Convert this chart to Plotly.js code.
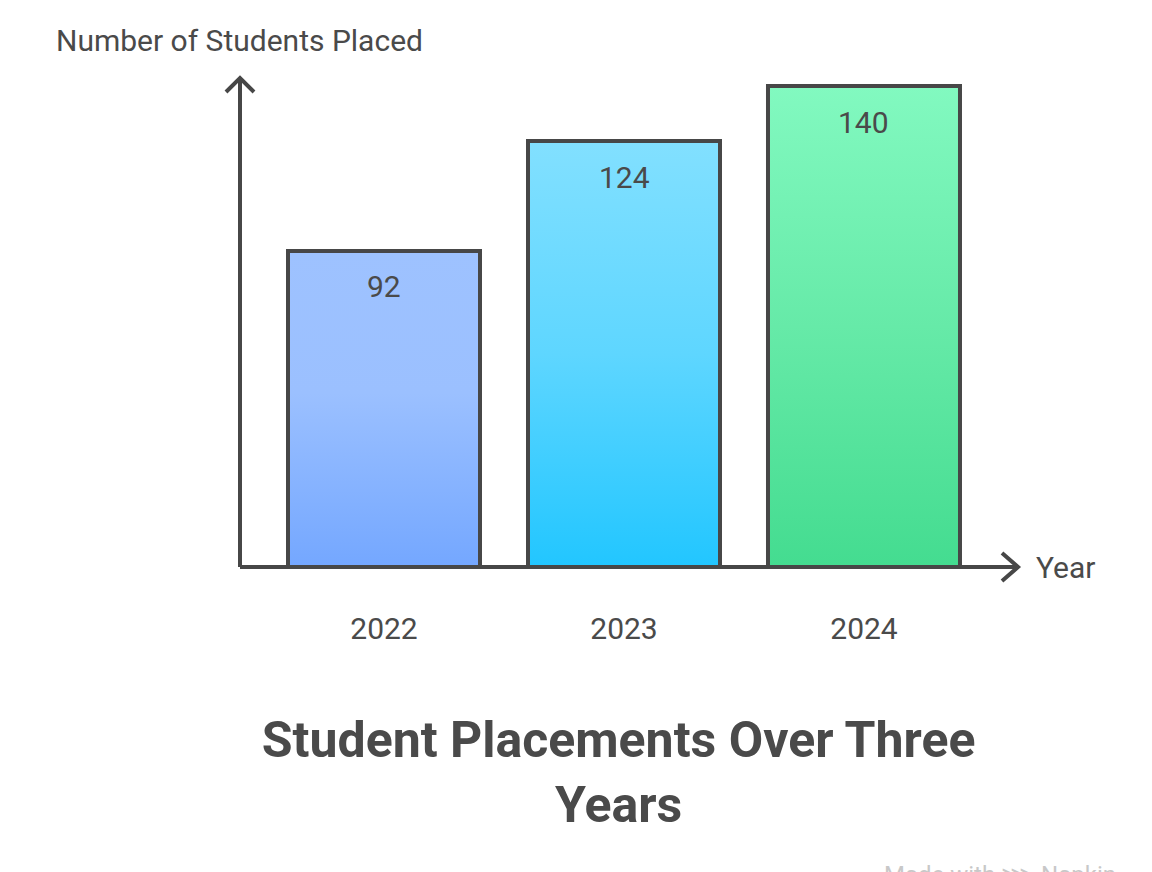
<!DOCTYPE html>
<html>
<head>
<meta charset="utf-8">
<script src="https://cdn.plot.ly/plotly-3.0.1.min.js"></script>
<style>html,body{margin:0;padding:0;background:#fff;}#chart{width:1152px;height:872px;}</style>
</head>
<body>
<div id="chart"></div>
<script>
// ---- data ----
var years = ['2022', '2023', '2024'];
var placed = [92, 124, 140];
var yTitle = 'Number of Students Placed';
var xTitle = 'Year';
var chartTitle = 'Student Placements Over Three<br>Years';

// ---- styles ----
var gradTop = ['#9ec2ff', '#82e0ff', '#82f9c0'];
var gradMid = ['#9bc0ff', '#5ed6ff', '#66eaa8'];
var gradBottom = ['#74a7ff', '#22c6ff', '#44dc90'];
var ink = '#474747';
var textInk = '#4a4a4a';
var font = 'Roboto, "Noto Sans", sans-serif';

function gradientUri(top, mid, bottom, midOffset) {
  var svg = "<svg xmlns='http://www.w3.org/2000/svg' width='10' height='100' viewBox='0 0 10 100' preserveAspectRatio='none'>" +
    "<defs><linearGradient id='g' x1='0' y1='0' x2='0' y2='1'>" +
    "<stop offset='0' stop-color='" + top + "'/>" +
    "<stop offset='" + midOffset + "' stop-color='" + mid + "'/>" +
    "<stop offset='1' stop-color='" + bottom + "'/>" +
    "</linearGradient></defs><rect width='10' height='100' fill='url(#g)'/></svg>";
  return 'data:image/svg+xml;charset=utf-8,' + encodeURIComponent(svg);
}

var barWidth = 0.8;
var images = years.map(function (y, i) {
  return {
    source: gradientUri(gradTop[i], gradMid[i], gradBottom[i], i === 0 ? 0.45 : 0.5),
    xref: 'x', yref: 'y',
    x: i - barWidth / 2, y: placed[i],
    sizex: barWidth, sizey: placed[i],
    xanchor: 'left', yanchor: 'top',
    sizing: 'stretch', layer: 'below'
  };
});

var bars = {
  type: 'bar',
  x: years,
  y: placed,
  width: barWidth,
  marker: { color: 'rgba(0,0,0,0)', line: { color: ink, width: 4 } },
  hoverinfo: 'x+y',
  showlegend: false
};

var annotations = years.map(function (y, i) {
  return {
    x: i, y: placed[i], xref: 'x', yref: 'y',
    text: String(placed[i]), showarrow: false,
    xanchor: 'center', yanchor: 'middle', yshift: -36,
    font: { family: font, size: 30, color: textInk }
  };
});
annotations.push({
  xref: 'paper', yref: 'paper', x: -0.2391, y: 1.0777,
  xanchor: 'left', yanchor: 'middle', showarrow: false,
  text: yTitle, font: { family: font, size: 30, color: textInk }
});
annotations.push({
  xref: 'paper', yref: 'paper', x: 1.0205, y: 0,
  xanchor: 'left', yanchor: 'middle', showarrow: false,
  text: xTitle, font: { family: font, size: 30, color: textInk }
});
annotations.push({
  xref: 'paper', yref: 'paper', x: 0.977, y: -0.629,
  xanchor: 'center', yanchor: 'middle', showarrow: false,
  text: 'Made with \u22d9 Napkin', font: { family: font, size: 24, color: '#c8c8c8' }
});

var shapes = [
  { type: 'line', xref: 'paper', yref: 'paper', x0: 0, x1: 1, y0: 0, y1: 0,
    line: { color: ink, width: 4 } },
  { type: 'line', xref: 'paper', yref: 'paper', x0: 0, x1: 0, y0: 0, y1: 1,
    line: { color: ink, width: 4 } },
  { type: 'path', xref: 'paper', yref: 'paper', xsizemode: 'pixel', ysizemode: 'pixel',
    xanchor: 1, yanchor: 0, path: 'M-16,14 L0,0 L-16,-14',
    line: { color: ink, width: 4 } },
  { type: 'path', xref: 'paper', yref: 'paper', xsizemode: 'pixel', ysizemode: 'pixel',
    xanchor: 0, yanchor: 1, path: 'M-14,-14 L0,0 L14,-14',
    line: { color: ink, width: 4 } }
];

var layout = {
  width: 1152, height: 872,
  margin: { l: 240, r: 134, t: 78, b: 305 },
  paper_bgcolor: '#ffffff', plot_bgcolor: 'rgba(0,0,0,0)',
  showlegend: false,
  title: {
    text: chartTitle,
    font: { family: font, size: 50, color: textInk, weight: 700 },
    x: 0.537, xanchor: 'center',
    y: 1 - 757 / 872, yref: 'container', yanchor: 'top'
  },
  xaxis: {
    type: 'category', range: [-0.6, 2.6417],
    showgrid: false, zeroline: false, showline: false, ticks: '',
    ticklabelstandoff: 41,
    tickfont: { family: font, size: 30, color: textInk },
    fixedrange: true
  },
  yaxis: {
    range: [0, 142.35], showgrid: false, zeroline: false, showline: false,
    showticklabels: false, ticks: '', fixedrange: true
  },
  images: images,
  shapes: shapes,
  annotations: annotations
};

Plotly.newPlot('chart', [bars], layout, { displayModeBar: false, staticPlot: true });
</script>
</body>
</html>
